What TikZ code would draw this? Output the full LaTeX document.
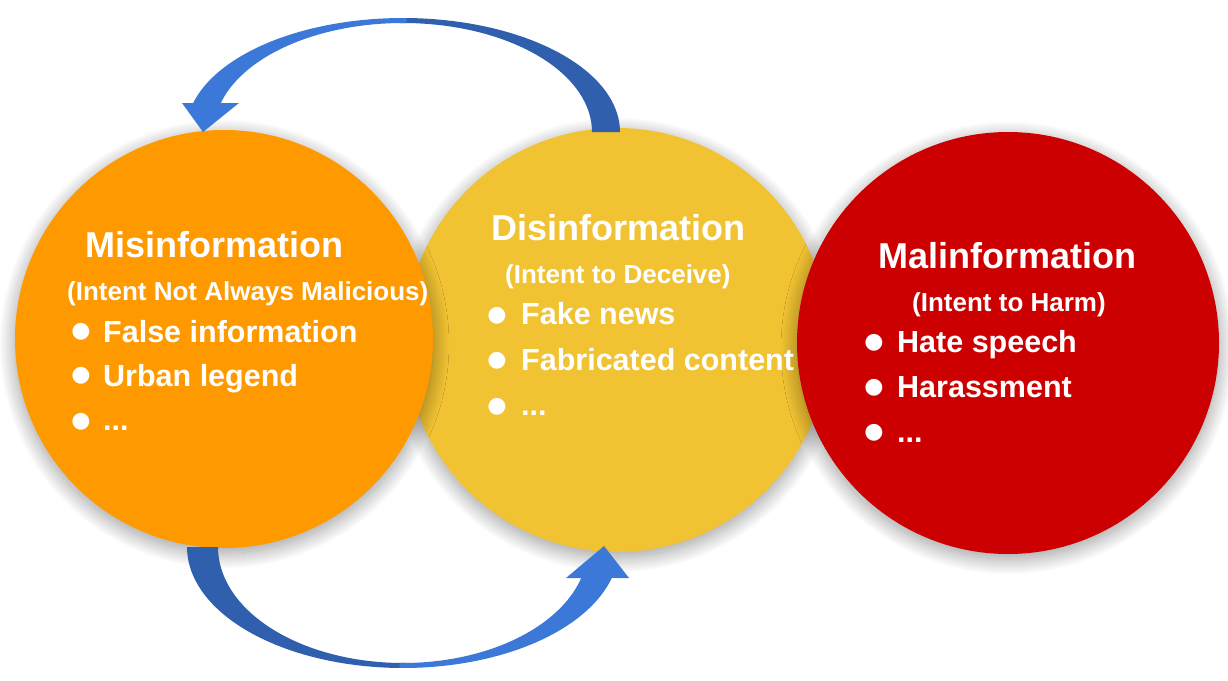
\documentclass[tikz,border=0pt]{standalone}
\usepackage{fontspec}
\setmainfont{Liberation Sans}
\newfontfamily\symfont{DejaVu Sans}
\usetikzlibrary{shadows.blur}
\definecolor{cOrange}{HTML}{FF9900}
\definecolor{cYellow}{HTML}{F1C232}
\definecolor{cRed}{HTML}{CC0000}
\definecolor{cBlueL}{HTML}{3C78D8}
\definecolor{cBlueD}{HTML}{2F5FAD}
\begin{document}
\begin{tikzpicture}[x=1pt,y=-1pt,
  disc/.style={circle, inner sep=0pt, minimum size=#1,
    blur shadow={shadow xshift=0pt, shadow yshift=-5pt, shadow blur radius=16pt, shadow blur steps=24, shadow opacity=40}},
  title/.style={text=white, font=\bfseries\fontsize{36}{40}\selectfont, anchor=base west, inner sep=0pt},
  sub/.style={text=white, font=\bfseries\fontsize{26}{29}\selectfont, anchor=base west, inner sep=0pt},
  item/.style={text=white, font=\bfseries\fontsize{30.5}{34}\selectfont, anchor=base west, inner sep=0pt},
  dot/.style={text=white, font=\symfont\fontsize{22}{24}\selectfont, inner sep=0pt, anchor=center}]
\useasboundingbox (0,0) rectangle (1228,680);
% circles
\node[disc=424pt, fill=cYellow] (dis) at (617,340) {};
\node[disc=418pt, fill=cOrange] (mis) at (224,339) {};
\node[disc=422pt, fill=cRed] (mal) at (1008,343) {};
% top arrow
\fill[cBlueD] plot[domain=0:91, samples=40, variable=\t] ({403+217*cos(\t)},{132-114*sin(\t)})
  -- plot[domain=91:0, samples=40, variable=\t] ({403+189*cos(\t)},{132-109*sin(\t)}) -- cycle;
\fill[cBlueL] plot[domain=89:165.3, samples=40, variable=\t] ({403+217*cos(\t)},{132-114*sin(\t)})
  -- (182,103) -- (203,132) coordinate (toptip) -- (239,103)
  -- plot[domain=164.57:89, samples=40, variable=\t] ({403+189*cos(\t)},{132-109*sin(\t)}) -- cycle;
% bottom arrow
\fill[cBlueD] plot[domain=180:89, samples=40, variable=\t] ({403+216*cos(\t)},{547+121*sin(\t)})
  -- plot[domain=89:180, samples=40, variable=\t] ({403+185*cos(\t)},{547+116*sin(\t)}) -- cycle;
\fill[cBlueL] plot[domain=91:14.84, samples=40, variable=\t] ({403+216*cos(\t)},{547+121*sin(\t)})
  -- (629,578) -- (604,546) coordinate (bottip) -- (566,578)
  -- plot[domain=15.5:91, samples=40, variable=\t] ({403+185*cos(\t)},{547+116*sin(\t)}) -- cycle;
% Misinformation
\node[title] (mist) at (85,257) {Misinformation};
\node[sub] (miss) at (67,300) {(Intent Not Always Malicious)};
\node[dot] (mb1) at (81,332) {●};
\node[item] (mi1) at (103,342) {False information};
\node[dot] (mb2) at (81,376) {●};
\node[item] (mi2) at (103,386) {Urban legend};
\node[dot] (mb3) at (81,422) {●};
\node[item] (mi3) at (103,430) {...};
% Disinformation
\node[title] (dist) at (491,240) {Disinformation};
\node[sub] (diss) at (505,283) {(Intent to Deceive)};
\node[dot] (db1) at (497,316) {●};
\node[item] (di1) at (521,324) {Fake news};
\node[dot] (db2) at (497,361) {●};
\node[item] (di2) at (521,370) {Fabricated content};
\node[dot] (db3) at (497,407) {●};
\node[item] (di3) at (521,415) {...};
% Malinformation
\node[title] (malt) at (878,268) {Malinformation};
\node[sub] (mals) at (912,311) {(Intent to Harm)};
\node[dot] (lb1) at (874,343) {●};
\node[item] (li1) at (897,352) {Hate speech};
\node[dot] (lb2) at (874,388) {●};
\node[item] (li2) at (897,397) {Harassment};
\node[dot] (lb3) at (874,433) {●};
\node[item] (li3) at (897,442) {...};
\end{tikzpicture}
\end{document}
